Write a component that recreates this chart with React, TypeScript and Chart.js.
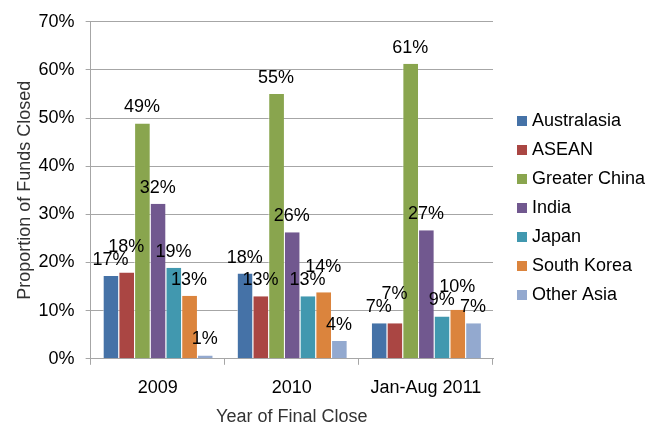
import React, { useEffect, useRef } from "react";
import { Chart, registerables } from "chart.js";

Chart.register(...registerables);

const categories = ["2009", "2010", "Jan-Aug 2011"];
const seriesNames = ["Australasia", "ASEAN", "Greater China", "India", "Japan", "South Korea", "Other Asia"];
const australasia = [17.2, 17.7, 7.4];
const asean = [17.9, 13.0, 7.4];
const greaterChina = [48.9, 55.0, 61.3];
const india = [32.2, 26.3, 26.7];
const japan = [18.9, 13.0, 8.8];
const southKorea = [13.1, 13.8, 10.2];
const otherAsia = [0.7, 3.7, 7.4];
const yTicks = [0, 10, 20, 30, 40, 50, 60, 70];

const seriesValues = [australasia, asean, greaterChina, india, japan, southKorea, otherAsia];
const colors = ["#4572A7", "#AA4643", "#89A54E", "#71588F", "#4198AF", "#DB843D", "#93A9CF"];

const FONT = '"Liberation Sans", Arial, sans-serif';

const barLabels = {
  id: "barLabels",
  afterDatasetsDraw(chart: any) {
    const ctx = chart.ctx;
    ctx.save();
    ctx.font = `18px ${FONT}`;
    ctx.fillStyle = "#000";
    ctx.textAlign = "center";
    ctx.textBaseline = "middle";
    const h = 13;
    const placed: { l: number; r: number; t: number; b: number }[] = [];
    for (let c = 0; c < categories.length; c++) {
      chart.data.datasets.forEach((ds: any, di: number) => {
        const bar = chart.getDatasetMeta(di).data[c];
        const text = Math.round(ds.data[c]) + "%";
        const w = ctx.measureText(text).width;
        const l = bar.x - w / 2;
        const r = bar.x + w / 2;
        let cy = bar.y - 16;
        let moved = true;
        let guard = 0;
        while (moved && guard < 20) {
          moved = false;
          guard++;
          for (const p of placed) {
            const t = cy - h / 2;
            const b = cy + h / 2;
            if (l < p.r - 1 && r > p.l + 1 && t < p.b - 1 && b > p.t + 1) {
              cy = p.t - h / 2;
              moved = true;
            }
          }
        }
        placed.push({ l, r, t: cy - h / 2, b: cy + h / 2 });
        ctx.fillText(text, bar.x, cy);
      });
    }
    ctx.restore();
  },
};

const sideLegend = {
  id: "sideLegend",
  afterDraw(chart: any) {
    const ctx = chart.ctx;
    const area = chart.chartArea;
    ctx.save();
    ctx.font = `18px ${FONT}`;
    ctx.textAlign = "left";
    ctx.textBaseline = "middle";
    const rowH = 29;
    const n = chart.data.datasets.length;
    const y0 = chart.height / 2 - 3.5 - ((n - 1) * rowH) / 2;
    const bx = area.right + 24;
    chart.data.datasets.forEach((ds: any, i: number) => {
      const y = y0 + i * rowH;
      ctx.fillStyle = ds.backgroundColor;
      ctx.fillRect(bx, y - 5, 10, 10);
      ctx.fillStyle = "#000";
      ctx.fillText(ds.label, bx + 15, y);
    });
    ctx.restore();
  },
};

export default function App() {
  const ref = useRef<HTMLCanvasElement>(null);
  useEffect(() => {
    if (!ref.current) return;
    Chart.defaults.font.family = FONT;
    const chart = new Chart(ref.current, {
      type: "bar",
      data: {
        labels: categories,
        datasets: seriesNames.map((name, i) => ({
          label: name,
          data: seriesValues[i],
          backgroundColor: colors[i],
          borderColor: "rgba(255,255,255,0.6)",
          borderWidth: { left: 1, right: 0, top: 0, bottom: 0 },
          categoryPercentage: 0.82,
          barPercentage: 1,
        })),
      },
      options: {
        responsive: false,
        animation: false,
        layout: { padding: { left: 6, right: 170, top: 21, bottom: 0 } },
        plugins: {
          legend: { display: false },
          tooltip: { enabled: false },
        },
        scales: {
          x: {
            grid: { display: true, drawOnChartArea: false, drawTicks: true, tickLength: 6, color: "#a6a6a6", offset: true },
            border: { color: "#a6a6a6" },
            ticks: { color: "#000", font: { size: 18 }, padding: 12 },
            title: { display: true, text: "Year of Final Close", color: "#333", font: { size: 18 }, padding: { top: -4, bottom: -5 } },
          },
          y: {
            min: 0,
            max: 70,
            afterBuildTicks: (axis: any) => {
              axis.ticks = yTicks.map((v) => ({ value: v }));
            },
            ticks: { color: "#000", font: { size: 18 }, padding: 11, callback: (v: any) => v + "%" },
            grid: { color: "#a6a6a6", tickLength: 5 },
            border: { color: "#a6a6a6" },
            title: { display: true, text: "Proportion of Funds Closed", color: "#333", font: { size: 18 }, padding: { top: 8, bottom: -8 } },
          },
        },
      },
      plugins: [barLabels, sideLegend],
    });
    return () => chart.destroy();
  }, []);
  return (
    <div style={{ position: "fixed", left: 0, top: 0, width: 663, height: 423, background: "#fff" }}>
      <canvas ref={ref} width={663} height={423} />
    </div>
  );
}
